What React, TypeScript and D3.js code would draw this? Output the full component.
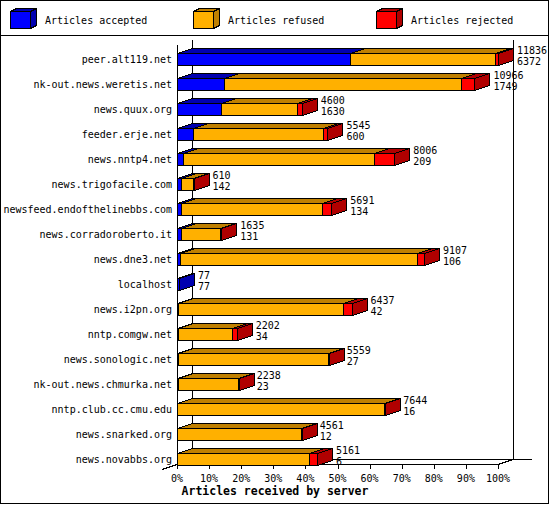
import React from "react";
import * as d3 from "d3";

const hosts = [
  "peer.alt119.net",
  "nk-out.news.weretis.net",
  "news.quux.org",
  "feeder.erje.net",
  "news.nntp4.net",
  "news.trigofacile.com",
  "newsfeed.endofthelinebbs.com",
  "news.corradoroberto.it",
  "news.dne3.net",
  "localhost",
  "news.i2pn.org",
  "nntp.comgw.net",
  "news.sonologic.net",
  "nk-out.news.chmurka.net",
  "nntp.club.cc.cmu.edu",
  "news.snarked.org",
  "news.novabbs.org",
];
const totals = [11836, 10966, 4600, 5545, 8006, 610, 5691, 1635, 9107, 77, 6437, 2202, 5559, 2238, 7644, 4561, 5161];
const accepted = [6372, 1749, 1630, 600, 209, 142, 134, 131, 106, 77, 42, 34, 27, 23, 16, 12, 6];
const rejected = [110, 480, 170, 170, 740, 10, 330, 45, 240, 0, 310, 180, 5, 5, 5, 5, 300];
const pctTicks = [0, 10, 20, 30, 40, 50, 60, 70, 80, 90, 100];

const seriesNames = ["Articles accepted", "Articles refused", "Articles rejected"];
const fronts = ["#0000ff", "#ffb000", "#ff0000"];
const shades = ["#0000b0", "#c08000", "#b00000"];

const FONT = "'DejaVu Sans Mono', monospace";
const DX = 15;
const DY = 5;

const x0 = 177;
const x1 = 498;
const axisY = 464.5;

const xScale = d3.scaleLinear().domain([0, d3.max(totals) as number]).range([x0, x1]);
const pct = d3.scaleLinear().domain([0, 100]).range([x0, x1]);
const yScale = d3
  .scaleBand<string>()
  .domain(hosts)
  .range([46.5, 471.5])
  .paddingInner(0.52)
  .paddingOuter(0.26);

const box = (key: string, a: number, b: number, top: number, bot: number, i: number, dx: number, dy: number) => (
  <g key={key}>
    <rect x={a} y={top} width={b - a} height={bot - top} fill={fronts[i]} stroke="#000" />
    <polygon
      points={`${a},${top} ${a + dx},${top - dy} ${b + dx},${top - dy} ${b},${top}`}
      fill={shades[i]}
      stroke="#000"
    />
    <polygon
      points={`${b},${top} ${b + dx},${top - dy} ${b + dx},${bot - dy} ${b},${bot}`}
      fill={shades[i]}
      stroke="#000"
    />
  </g>
);

const App: React.FC = () => {
  const legendX = [10, 193, 376];

  return (
    <svg
      width={550}
      height={505}
      style={{ position: "absolute", left: 0, top: 0, background: "#fff" }}
      fontFamily={FONT}
      fontSize={10}
    >
      <rect x={0.5} y={0.5} width={548} height={503} fill="#fff" stroke="#000" />
      <line x1={0} x2={549} y1={35.5} y2={35.5} stroke="#000" />

      {/* legend */}
      <g shapeRendering="crispEdges">
        {seriesNames.map((name, i) => (
          <g key={name}>
            {box("lg" + i, legendX[i] + 0.5, legendX[i] + 20.5, 11.5, 28.5, i, 6, 3)}
            <text x={legendX[i] + 35} y={24} fill="#000">
              {name}
            </text>
          </g>
        ))}
      </g>

      {/* back wall and floor */}
      <g stroke="#000" shapeRendering="crispEdges">
        <line x1={x0 + DX + 0.5} x2={x0 + DX + 0.5} y1={40} y2={axisY - DY} />
        <line x1={x1 + DX + 0.5} x2={x1 + DX + 0.5} y1={40} y2={axisY - DY} />
        <line x1={x0 + DX} x2={x1 + DX + 19} y1={axisY - DY} y2={axisY - DY} />
        <line x1={x0 + 0.5} x2={x0 + 0.5} y1={45} y2={axisY} />
        <line x1={x0} x2={x1 + 1} y1={axisY} y2={axisY} />
        <line x1={x0 - DX} y1={axisY + DY} x2={x0} y2={axisY} />
        <line x1={x1} y1={axisY} x2={x1 + DX} y2={axisY - DY} />
        {pctTicks.map((t) => (
          <line key={t} x1={Math.round(pct(t)) + 0.5} x2={Math.round(pct(t)) + 0.5} y1={axisY} y2={axisY + 4} />
        ))}
      </g>

      {/* bars */}
      <g shapeRendering="crispEdges">
        {hosts.map((h, r) => {
          const top = (yScale(h) as number) + 0.5;
          const bot = top + yScale.bandwidth();
          const refused = totals[r] - accepted[r] - rejected[r];
          const vals = [accepted[r], refused, rejected[r]];
          let acc = 0;
          return (
            <g key={h}>
              {vals.map((v, i) => {
                if (v <= 0) return null;
                const a = Math.round(xScale(acc)) + 0.5;
                acc += v;
                const b = Math.round(xScale(acc)) + 0.5;
                return box(h + i, a, Math.max(b, a + 1), top, bot, i, DX, DY);
              })}
            </g>
          );
        })}
      </g>

      {/* category labels */}
      {hosts.map((h) => {
        const c = (yScale(h) as number) + yScale.bandwidth() / 2;
        return (
          <text key={h} x={172} y={c + 3.5} textAnchor="end" fill="#000">
            {h}
          </text>
        );
      })}

      {/* value labels */}
      {hosts.map((h, r) => {
        const c = (yScale(h) as number) + yScale.bandwidth() / 2;
        const lx = xScale(totals[r]) + 19;
        return (
          <g key={h} fill="#000">
            <text x={lx} y={c - 5}>
              {totals[r]}
            </text>
            <text x={lx} y={c + 6}>
              {accepted[r]}
            </text>
          </g>
        );
      })}

      {/* x tick labels */}
      {pctTicks.map((t) => (
        <text key={t} x={pct(t)} y={481.5} textAnchor="middle" fill="#000">
          {t}%
        </text>
      ))}

      <text x={275} y={495} textAnchor="middle" fontWeight="bold" fontSize={11.5} fill="#000">
        Articles received by server
      </text>
    </svg>
  );
};

export default App;
